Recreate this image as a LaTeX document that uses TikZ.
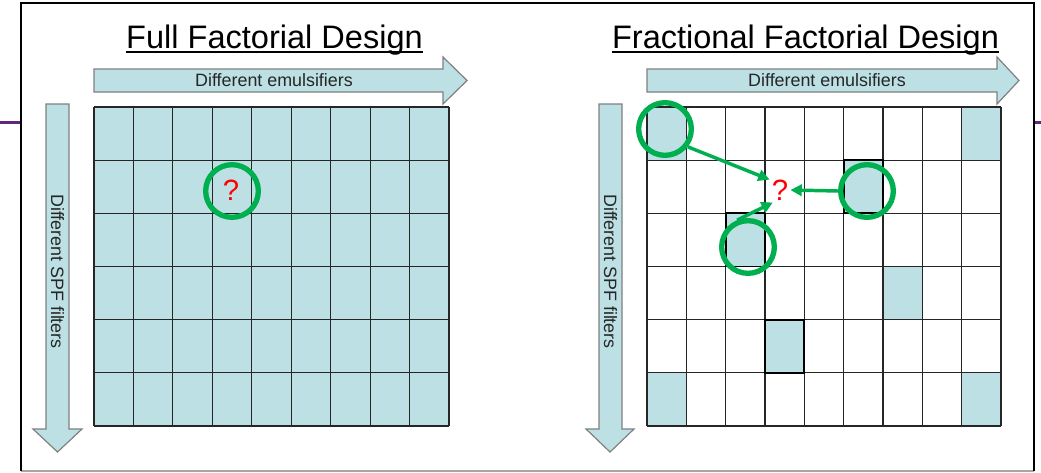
\documentclass[tikz,border=0pt]{standalone}
\usepackage{fontspec}
\setmainfont{Liberation Sans}
\usetikzlibrary{arrows.meta, positioning, calc}
\definecolor{cellblue}{RGB}{188,224,228}
\definecolor{ringgreen}{RGB}{0,176,80}
\definecolor{framepurple}{RGB}{96,40,120}
\definecolor{outlinegray}{RGB}{128,128,128}

\begin{document}
\begin{tikzpicture}[
			x=0.75pt, y=-0.75pt,
			gridline/.style={draw=black!85, line width=0.9pt},
			bigarrow/.style={fill=cellblue, draw=outlinegray, line width=0.9pt},
			label/.style={font=\fontsize{13.4}{16}\selectfont, text=black!85, inner sep=0pt},
			heading/.style={font=\fontsize{24.4}{29}\selectfont, inner sep=0pt, anchor=base},
			ring/.style={circle, draw=ringgreen, line width=4pt, minimum size=39.5pt, inner sep=0pt},
			query/.style={font=\fontsize{22}{26}\selectfont, text=red, inner sep=1.5pt},
			link/.style={draw=ringgreen, line width=2.6pt, -{Triangle[length=8.5pt, width=8.5pt]}}
		]
		\useasboundingbox (0,0) rectangle (1041,472);
		
		% frame and slide rule
		\draw[framepurple, line width=2.2pt] (0,122.5) -- (21,122.5);
		\draw[framepurple, line width=2.2pt] (1034,122.5) -- (1041,122.5);
		\draw[black!35, line width=1.2pt] (21,471) -- (1034,471);
		\draw[black, line width=1.5pt] (1034,471) -- (1034,3) -- (21,3) -- (21,471);
		
		% titles
		\node[heading] (fulltitle) at (274.5,48) {Full Factorial Design};
		\node[heading] (fractitle) at (805.5,48) {Fractional Factorial Design};
		\draw[line width=1.1pt] ([yshift=-3pt]fulltitle.base west) -- ([yshift=-3pt]fulltitle.base east);
		\draw[line width=1.1pt] ([yshift=-3pt]fractitle.base west) -- ([yshift=-3pt]fractitle.base east);
		
		% factor arrows
		\draw[bigarrow] (94,69) -- (443,69) -- (443,57) -- (467,80.5) -- (443,104) -- (443,92) -- (94,92) -- cycle;
		\draw[bigarrow] (647,69) -- (997,69) -- (997,57) -- (1019,80.5) -- (997,104) -- (997,92) -- (647,92) -- cycle;
		\draw[bigarrow] (46,104) -- (69,104) -- (69,429) -- (82,429) -- (57.5,452) -- (33,429) -- (46,429) -- cycle;
		\draw[bigarrow] (599,104) -- (622,104) -- (622,429) -- (634,429) -- (610,452) -- (586,429) -- (599,429) -- cycle;
		\node[label] (emulsfull) at (274,80) {Different emulsifiers};
		\node[label] (emulsfrac) at (827,80) {Different emulsifiers};
		\node[label, rotate=-90] (spffull) at (57.5,271.5) {Different SPF filters};
		\node[label, rotate=-90] (spffrac) at (610.5,271.5) {Different SPF filters};
		
		% full design: every cell
		\fill[cellblue] (94,107) rectangle (449,426);
		\foreach \i in {0,...,9}
			\draw[gridline] ({94+\i*355/9},107) -- ({94+\i*355/9},426);
		\foreach \j in {0,...,6}
			\draw[gridline] (94,{107+\j*319/6}) -- (449,{107+\j*319/6});
		
		% fractional design: chosen cells only
		\foreach \c/\r in {0/0,8/0,5/1,2/2,6/3,3/4,0/5,8/5}
			\fill[cellblue] ({647+\c*354/9},{107+\r*319/6}) rectangle ({647+(\c+1)*354/9},{107+(\r+1)*319/6});
		\foreach \i in {0,...,9}
			\draw[gridline] ({647+\i*354/9},107) -- ({647+\i*354/9},426);
		\foreach \j in {0,...,6}
			\draw[gridline] (647,{107+\j*319/6}) -- (1001,{107+\j*319/6});
		\foreach \c/\r in {5/1,2/2,3/4}
			\draw[line width=1.3pt] ({647+\c*354/9},{107+\r*319/6}) rectangle ({647+(\c+1)*354/9},{107+(\r+1)*319/6});
		
		% unknown cells
		\node[query] (qfull) at (231,190) {?};
		\node[ring] (rfull) at (232,191) {};
		
		\node[query] (qfrac) at (780,190) {?};
		\node[ring] (ra) at (665,129) {};
		\node[ring] (rb) at (867,191) {};
		\node[ring] (rc) at (748,247) {};
		
		\draw[link] (ra.-38) -- (qfrac.135);
		\draw[link] (rb.west) -- (qfrac.east);
		\draw[link] (rc.112) -- (qfrac.-120);
		\end{tikzpicture}
\end{document}
